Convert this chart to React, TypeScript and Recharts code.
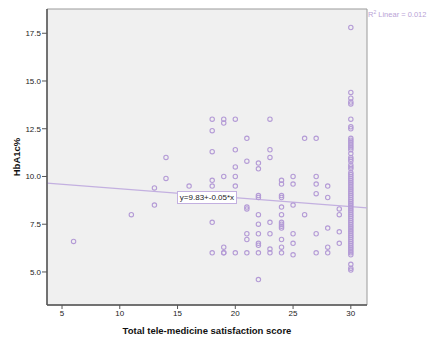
import React from 'react';
import {
  ComposedChart,
  Scatter,
  XAxis,
  YAxis,
  ReferenceArea,
  ReferenceLine,
  Customized,
} from 'recharts';

// Total tele-medicine satisfaction score (x) and HbA1c% readings (y) at each score
const scores = [6, 11, 13, 14, 16, 18, 19, 20, 21, 22, 23, 24, 25, 26, 27, 28, 29, 30];
const hba1cAtScore: number[][] = [
  [6.6],
  [8.0],
  [9.4, 8.5],
  [11.0, 9.9],
  [9.5],
  [13.0, 12.4, 11.3, 9.8, 9.5, 7.6, 6.0],
  [13.0, 12.8, 10.0, 6.3, 6.0, 6.0],
  [13.0, 11.4, 10.5, 10.0, 9.5, 6.0],
  [12.0, 10.8, 8.4, 8.3, 7.0, 6.7, 6.0],
  [10.7, 10.4, 9.0, 8.9, 8.0, 7.5, 7.0, 6.5, 6.4, 6.0, 4.6],
  [13.0, 11.4, 11.0, 7.6, 7.0, 6.2, 6.0],
  [9.8, 9.6, 9.0, 8.9, 8.4, 8.0, 7.6, 7.5, 7.4, 7.3, 6.7, 6.3, 6.0],
  [10.0, 9.6, 8.5, 7.0, 6.5, 5.9],
  [12.0, 8.0],
  [12.0, 10.0, 9.6, 9.1, 7.0, 6.0],
  [9.5, 8.9, 7.3, 6.3, 6.0],
  [8.3, 8.0, 7.1, 6.5],
  [
    17.8, 14.4, 14.1, 13.9, 13.8, 13.0, 12.6, 12.5, 12.0, 11.9, 11.8, 11.7, 11.6,
    11.5, 11.4, 11.2, 11.0, 10.9, 10.8, 10.6, 10.5, 10.4, 10.2, 10.1, 10.0, 9.9,
    9.8, 9.7, 9.6, 9.5, 9.4, 9.3, 9.2, 9.1, 9.0, 8.9, 8.8, 8.7, 8.6, 8.5, 8.4,
    8.3, 8.2, 8.1, 8.0, 7.9, 7.8, 7.7, 7.6, 7.5, 7.4, 7.3, 7.2, 7.1, 7.0, 6.9,
    6.8, 6.7, 6.6, 6.5, 6.4, 6.3, 6.2, 6.1, 6.0, 5.9, 5.4, 5.2, 5.1,
  ],
];

const xTicks = [5, 10, 15, 20, 25, 30];
const yTicks = [5.0, 7.5, 10.0, 12.5, 15.0, 17.5];
const xDomain: [number, number] = [3.7, 31.4];
const yDomain: [number, number] = [3.27, 18.77];

const fitIntercept = 9.83;
const fitSlope = -0.047;
const fitLabel = 'y=9.83+-0.05*x';
const r2Text = ' Linear = 0.012';

const xTitle = 'Total tele-medicine satisfaction score';
const yTitle = 'HbA1c%';

const points = scores.flatMap((s, i) => hba1cAtScore[i].map((v) => ({ x: s, y: v })));

const PURPLE = '#b49bd6';
const FONT = '"Liberation Sans", Arial, sans-serif';

const Ring = (props: any) => (
  <circle cx={props.cx} cy={props.cy} r={2.2} fill="none" stroke={PURPLE} strokeWidth={1.1} />
);

const Overlay = () => (
  <g fontFamily={FONT}>
    <text x={368} y={17} fontSize={7.5} fill="#b9a3d6">
      R<tspan fontSize={5} dy={-3}>2</tspan>
      <tspan dy={3}>{r2Text}</tspan>
    </text>
    <text x={207} y={334} fontSize={9.5} fontWeight="bold" fill="#111" textAnchor="middle">
      {xTitle}
    </text>
    <text
      transform="translate(20,157) rotate(-90)"
      fontSize={9.5}
      fontWeight="bold"
      fill="#111"
      textAnchor="middle"
    >
      {yTitle}
    </text>
  </g>
);

export default function App() {
  return (
    <div style={{ position: 'absolute', left: 0, top: 0, width: 448, height: 352 }}>
      <ComposedChart
        width={448}
        height={352}
        margin={{ top: 9, right: 81, bottom: 0, left: 0 }}
      >
        <ReferenceArea
          x1={xDomain[0]}
          x2={xDomain[1]}
          y1={yDomain[0]}
          y2={yDomain[1]}
          fill="#f0f0f0"
          fillOpacity={1}
          stroke="#9a9a9a"
          strokeWidth={1}
          ifOverflow="visible"
        />
        <XAxis
          type="number"
          dataKey="x"
          domain={xDomain}
          ticks={xTicks}
          allowDataOverflow
          height={47}
          tickSize={4}
          tickMargin={1}
          axisLine={{ stroke: '#555', strokeWidth: 1.5 }}
          tickLine={{ stroke: '#555' }}
          tick={{ fontSize: 8, fill: '#222', fontFamily: FONT }}
        />
        <YAxis
          type="number"
          dataKey="y"
          domain={yDomain}
          ticks={yTicks}
          allowDataOverflow
          width={47}
          tickSize={5}
          tickMargin={1}
          tickFormatter={(v: number) => v.toFixed(1)}
          axisLine={{ stroke: '#555', strokeWidth: 1.5 }}
          tickLine={{ stroke: '#555' }}
          tick={{ fontSize: 8, fill: '#222', fontFamily: FONT }}
        />
        <ReferenceLine
          segment={[
            { x: xDomain[0], y: fitIntercept + fitSlope * xDomain[0] },
            { x: xDomain[1], y: fitIntercept + fitSlope * xDomain[1] },
          ]}
          stroke="#c3b0e0"
          strokeWidth={1.2}
          ifOverflow="visible"
        />
        <Scatter data={points} shape={Ring} isAnimationActive={false} />
        <Customized component={Overlay} />
      </ComposedChart>
      <div
        style={{
          position: 'absolute',
          left: 177,
          top: 190.5,
          width: 60,
          height: 13,
          boxSizing: 'border-box',
          border: '1px solid #c3b0e0',
          background: '#ffffff',
          fontFamily: FONT,
          fontSize: 8,
          lineHeight: '11px',
          color: '#222',
          textAlign: 'center',
          whiteSpace: 'nowrap',
        }}
      >
        {fitLabel}
      </div>
    </div>
  );
}
